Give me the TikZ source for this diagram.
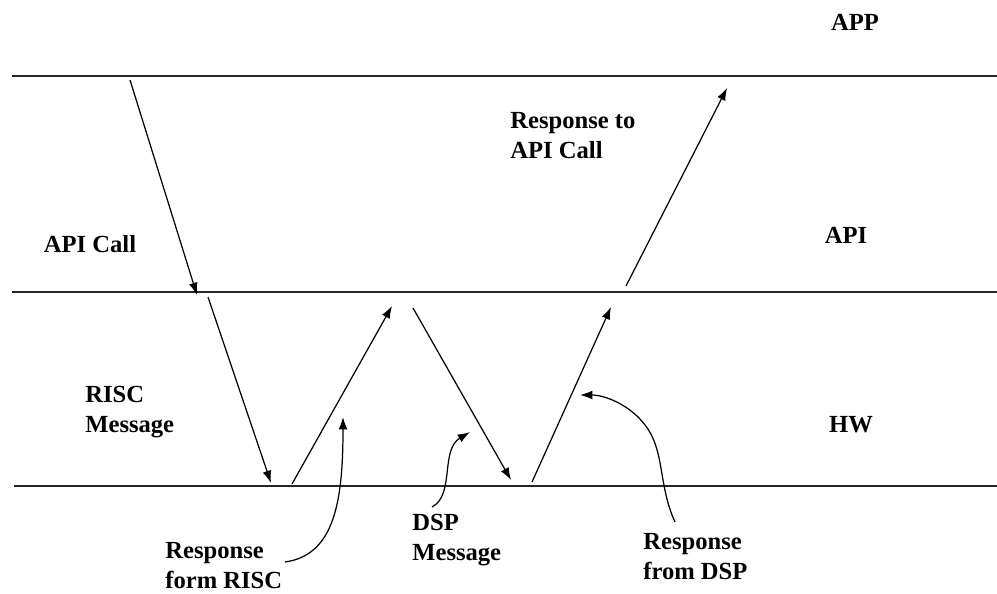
\documentclass[tikz,border=0pt]{standalone}
\usepackage{fontspec}
\setmainfont{Liberation Serif}
\usetikzlibrary{arrows.meta, positioning}

\begin{document}
\begin{tikzpicture}[
    layer/.style={line width=0.9pt, black!85},
    msg/.style={-{Latex[length=7pt, width=5pt]}, line width=0.7pt, black},
    note/.style={-{Latex[length=7pt, width=5pt]}, line width=0.7pt, black},
    lbl/.style={font=\fontsize{14}{17}\selectfont\bfseries, inner sep=0pt},
    txt/.style={lbl, align=left, anchor=north west}
  ]
    \useasboundingbox (0,0) rectangle (19.94,-11.86);

    % layer boundaries
    \coordinate (topW) at (0.24,-1.52);  \coordinate (topE) at (19.94,-1.52);
    \coordinate (midW) at (0.24,-5.84);  \coordinate (midE) at (19.94,-5.84);
    \coordinate (botW) at (0.28,-9.72);  \coordinate (botE) at (19.94,-9.72);
    \draw[layer] (topW) -- (topE);
    \draw[layer] (midW) -- (midE);
    \draw[layer] (botW) -- (botE);

    % layer names
    \node[lbl] (app) at (17.10,-0.44) {APP};
    \node[lbl] (api) at (16.92,-4.70) {API};
    \node[lbl] (hw)  at (17.02,-8.50) {HW};

    % message end points
    \coordinate (callS) at (2.60,-1.60);   \coordinate (callE) at (3.94,-5.90);
    \coordinate (riscS) at (4.16,-5.94);   \coordinate (riscE) at (5.42,-9.66);
    \coordinate (rrS)   at (5.84,-9.68);   \coordinate (rrE)   at (7.84,-6.12);
    \coordinate (dspS)  at (8.26,-6.16);   \coordinate (dspE)  at (10.22,-9.60);
    \coordinate (rdS)   at (10.64,-9.64);  \coordinate (rdE)   at (12.22,-6.14);
    \coordinate (retS)  at (12.52,-5.72);  \coordinate (retE)  at (14.54,-1.76);
    \draw[msg] (callS) -- (callE);
    \draw[msg] (riscS) -- (riscE);
    \draw[msg] (rrS) -- (rrE);
    \draw[msg] (dspS) -- (dspE);
    \draw[msg] (rdS) -- (rdE);
    \draw[msg] (retS) -- (retE);

    % message labels
    \node[lbl] (apicall) at (1.80,-4.88) {API Call};
    \node[txt] (riscmsg) at (1.70,-7.72) {RISC\\Message};
    \node[txt] (retmsg) at (10.20,-2.24) {Response to\\API Call};
    \node[txt] (rrmsg) at (3.30,-10.84) {Response\\form RISC};
    \node[txt] (dspmsg) at (8.24,-10.28) {DSP\\Message};
    \node[txt] (rdmsg) at (12.86,-10.66) {Response\\from DSP};

    % pointers from labels
    \coordinate (rrP) at (5.70,-11.24);  \coordinate (rrT) at (6.86,-8.34);
    \coordinate (dspP) at (8.64,-10.14); \coordinate (dspT) at (9.40,-8.64);
    \coordinate (rdP) at (13.50,-10.44); \coordinate (rdT) at (11.60,-7.90);
    \draw[note] (rrP) .. controls (6.70,-11.10) and (6.86,-10.00) .. (rrT);
    \draw[note] (dspP) .. controls (9.10,-9.90) and (8.80,-9.00) .. (dspT);
    \draw[note] (rdP) .. controls (13.16,-9.70) and (13.30,-9.00) .. (12.90,-8.50)
                .. controls (12.60,-8.10) and (12.10,-7.90) .. (rdT);
\end{tikzpicture}
\end{document}
